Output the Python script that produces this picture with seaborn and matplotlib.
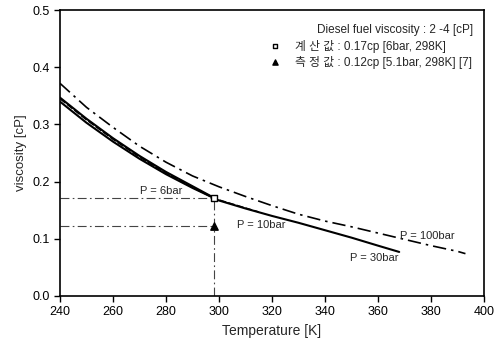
import matplotlib
matplotlib.use('Agg')
import matplotlib.pyplot as plt
import seaborn as sns
import pandas as pd

# curves
t_6bar = [240, 250, 260, 270, 280, 290, 298]
v_6bar = [0.347, 0.310, 0.276, 0.245, 0.217, 0.192, 0.172]

t_10bar = [240, 250, 260, 270, 280, 290, 298, 305, 315]
v_10bar = [0.345, 0.308, 0.274, 0.243, 0.215, 0.190, 0.171, 0.161, 0.147]

t_30bar = [240, 250, 260, 270, 280, 290, 300, 310, 320, 330, 340, 350, 360, 368]
v_30bar = [0.340, 0.303, 0.270, 0.240, 0.213, 0.189, 0.167, 0.153, 0.140, 0.128, 0.115, 0.102, 0.088, 0.077]

t_100bar = [240, 250, 260, 270, 280, 290, 300, 310, 320, 330, 340, 350, 360, 370, 380, 390, 393]
v_100bar = [0.372, 0.330, 0.295, 0.262, 0.234, 0.210, 0.191, 0.174, 0.158, 0.143, 0.131, 0.121, 0.110, 0.099, 0.088, 0.078, 0.074]

calc_T, calc_v = 298, 0.172
meas_T, meas_v = 298, 0.123

sns.set_style('ticks')
plt.rcParams['font.family'] = ['Liberation Sans', 'Noto Sans CJK KR', 'DejaVu Sans']

fig = plt.figure(figsize=(5, 3.39), dpi=100)
ax = fig.add_axes([0.12, 0.127, 0.848, 0.843])

sns.lineplot(x=t_6bar, y=v_6bar, ax=ax, color='black', lw=1.5)
sns.lineplot(x=t_10bar, y=v_10bar, ax=ax, color='black', lw=1.0, linestyle=(0, (5, 1.5)))
sns.lineplot(x=t_30bar, y=v_30bar, ax=ax, color='black', lw=1.5)
sns.lineplot(x=t_100bar, y=v_100bar, ax=ax, color='black', lw=1.2, linestyle=(0, (8, 3, 1.5, 3)))

# guide lines to the two points
guide = dict(color='#444444', lw=0.8, linestyle=(0, (8, 3, 1.5, 3)))
ax.plot([240, calc_T], [calc_v, calc_v], **guide)
ax.plot([240, meas_T], [meas_v, meas_v], **guide)
ax.plot([calc_T, calc_T], [0, calc_v], **guide)

ax.scatter([calc_T], [calc_v], marker='s', s=18, facecolor='white', edgecolor='black', lw=1, zorder=5)
ax.scatter([meas_T], [meas_v], marker='^', s=28, color='black', zorder=5)

ax.text(278, 0.183, 'P = 6bar', fontsize=8, ha='center', va='center')
ax.text(316, 0.124, 'P = 10bar', fontsize=8, ha='center', va='center')
ax.text(358.5, 0.067, 'P = 30bar', fontsize=8, ha='center', va='center')
ax.text(378.5, 0.105, 'P = 100bar', fontsize=8, ha='center', va='center')

# legend block, top right
ax.text(396, 0.465, 'Diesel fuel viscosity : 2 -4 [cP]', fontsize=8.5, ha='right', va='center')
ax.scatter([321], [0.437], marker='s', s=10, facecolor='white', edgecolor='black', lw=1)
ax.text(328.5, 0.437, '계 산 값 : 0.17cp [6bar, 298K]', fontsize=8.5, ha='left', va='center')
ax.scatter([321], [0.409], marker='^', s=14, color='black')
ax.text(328.5, 0.409, '측 정 값 : 0.12cp [5.1bar, 298K] [7]', fontsize=8.5, ha='left', va='center')

ax.set_xlim(240, 400)
ax.set_ylim(0, 0.5)
ax.set_xticks(range(240, 401, 20))
ax.set_yticks([0, 0.1, 0.2, 0.3, 0.4, 0.5])
ax.set_yticklabels(['0.0', '0.1', '0.2', '0.3', '0.4', '0.5'])
ax.tick_params(labelsize=9, length=4, width=1, direction='out', colors='black')
ax.set_xlabel('Temperature [K]', fontsize=10)
ax.set_ylabel('viscosity [cP]', fontsize=9.5)
for s in ax.spines.values():
    s.set_linewidth(1.2)
    s.set_color('black')

fig.savefig('out.png', dpi=100)
